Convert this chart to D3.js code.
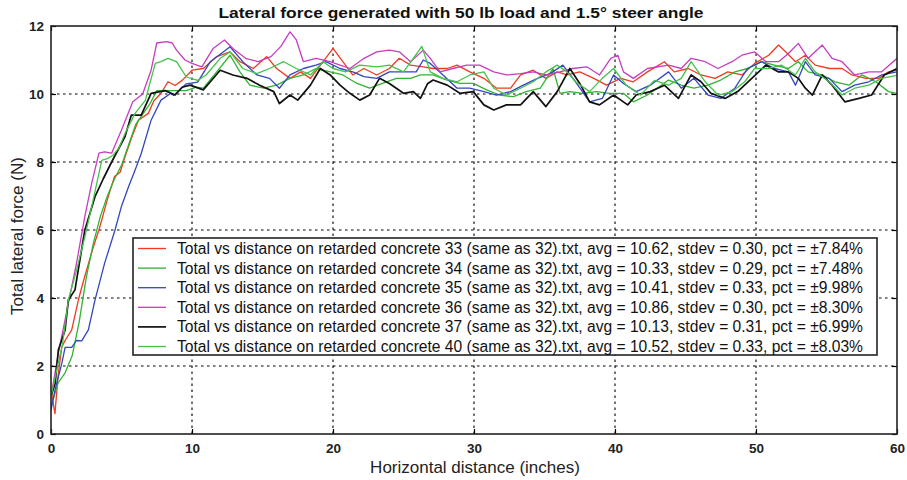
<!DOCTYPE html>
<html>
<head>
<meta charset="utf-8">
<script src="https://cdn.jsdelivr.net/npm/d3@7"></script>
<style>
  body { margin: 0; background: #fff; }
  svg { display: block; }
  .tick text { font-family: "Liberation Sans", Arial, sans-serif; font-size: 13.5px; font-weight: bold; fill: #222; }
  .grid line { stroke: #000; stroke-width: 1.1; stroke-dasharray: 2.5 3.5; }
</style>
</head>
<body>
<div id="chart"></div>
<script>
// Chart data
const xTicks = [0, 10, 20, 30, 40, 50, 60];
const yTicks = [0, 2, 4, 6, 8, 10, 12];

const runs = ["33", "34", "35", "36", "37", "40"];
const colors = ["#f03a22", "#2fb52f", "#3246c0", "#c83cc0", "#111111", "#45c24a"];
const avgs = ["10.62", "10.33", "10.41", "10.86", "10.13", "10.52"];
const stdevs = ["0.30", "0.29", "0.33", "0.30", "0.31", "0.33"];
const pcts = ["7.84", "7.48", "9.98", "8.30", "6.99", "8.03"];

const run33 = [[0,1.3],[0.28,0.6],[0.5,1.7],[0.76,2.55],[1.0,2.75],[1.47,3.06],[1.94,3.94],[2.3,4.5],[2.65,5.0],[3.0,5.5],[3.4,6.0],[4.0,6.9],[4.5,7.57],[4.9,7.7],[5.25,8.15],[5.7,8.7],[6.2,9.23],[6.9,9.43],[7.3,9.8],[7.8,10.02],[8.3,10.36],[8.8,10.25],[9.3,10.4],[10.0,10.7],[10.8,10.75],[11.75,11.1],[12.7,11.24],[13.4,10.95],[14.35,10.75],[15.3,11.1],[16.0,10.75],[16.95,10.46],[17.7,10.65],[18.4,10.46],[19.3,10.95],[20.0,11.34],[20.7,10.95],[21.4,10.56],[22.2,10.75],[23.1,10.56],[24.0,10.75],[24.7,11.05],[25.5,10.85],[26.4,10.8],[27.1,10.75],[28.1,10.75],[28.8,10.85],[29.7,10.65],[30.7,10.46],[31.6,10.17],[32.6,10.17],[33.3,10.56],[34.2,10.7],[35.1,10.46],[35.9,10.65],[36.6,10.56],[37.5,10.65],[38.5,10.46],[39.4,10.26],[40.4,10.46],[41.3,10.36],[42.3,10.65],[43.5,10.95],[44.2,10.65],[45.2,10.75],[46.1,10.56],[47.1,10.46],[48.0,10.65],[49.0,10.56],[49.9,10.9],[50.9,11.14],[51.6,11.44],[52.1,11.24],[52.8,10.95],[53.5,11.14],[54.2,10.85],[55.2,10.75],[56.1,10.75],[56.8,10.56],[57.8,10.46],[58.7,10.46],[59.4,10.65],[60,10.7]];

const run34 = [[0,0.8],[0.5,1.5],[1.0,1.8],[1.5,2.3],[2.0,3.3],[2.5,4.6],[3.0,5.6],[3.5,6.4],[4.0,7.0],[4.5,7.5],[5.0,7.9],[5.5,8.5],[6.0,9.1],[6.5,9.4],[7.0,9.7],[7.5,10.1],[8.4,10.1],[9.6,10.1],[10.3,10.2],[10.8,10.17],[11.75,10.65],[12.7,11.14],[13.4,10.65],[14.1,10.26],[15.1,10.17],[16.0,10.26],[16.95,10.46],[17.9,10.56],[18.8,10.75],[19.8,10.65],[20.7,10.56],[21.7,10.31],[22.6,10.17],[23.5,10.31],[24.5,10.46],[25.5,10.46],[26.2,10.56],[27.1,10.56],[28.1,10.41],[29.0,10.31],[29.95,10.31],[30.9,10.12],[31.8,9.97],[32.8,9.92],[33.7,10.07],[34.7,10.17],[35.6,10.75],[36.1,10.02],[36.8,10.07],[37.7,10.02],[38.7,10.07],[39.6,10.02],[40.6,10.02],[41.3,9.77],[42.3,9.97],[43.8,10.41],[44.7,10.26],[45.6,10.17],[46.6,10.26],[47.5,10.41],[48.5,10.65],[49.4,10.75],[50.4,10.95],[51.3,10.85],[52.3,10.75],[53.0,10.95],[53.7,10.65],[54.7,10.56],[55.6,10.36],[56.6,10.26],[57.5,10.56],[58.5,10.36],[59.4,10.07],[60,10.02]];

const run35 = [[0,0.7],[0.28,1.29],[0.76,2.06],[1.0,2.55],[1.47,2.55],[1.8,2.75],[2.18,2.74],[2.65,3.06],[3.12,3.94],[3.8,5.02],[4.54,6.0],[5.0,6.7],[5.5,7.27],[6.0,7.8],[6.4,8.25],[7.1,9.23],[7.8,9.82],[8.5,10.02],[8.7,9.96],[9.6,10.3],[10.4,10.35],[11.3,10.95],[12.7,11.39],[13.6,10.95],[14.6,10.56],[15.5,10.46],[16.2,10.17],[16.95,10.56],[17.9,10.75],[18.8,10.85],[19.5,10.95],[20.5,10.75],[21.4,10.65],[22.2,10.51],[23.1,10.46],[24.0,10.65],[25.0,10.65],[25.9,10.65],[26.4,11.0],[26.9,10.9],[27.8,10.56],[28.8,10.17],[29.7,10.17],[30.7,10.07],[31.6,9.97],[32.6,10.07],[33.5,10.26],[34.5,10.46],[35.4,10.6],[36.3,10.85],[37.2,10.36],[38.2,9.77],[39.1,9.87],[39.9,10.56],[40.6,10.31],[41.5,10.07],[42.5,10.26],[43.8,10.65],[44.7,10.17],[45.6,10.46],[46.6,9.97],[47.5,9.87],[48.5,10.17],[49.4,10.75],[50.4,10.95],[51.3,10.75],[52.3,10.65],[52.8,10.26],[53.5,10.95],[54.2,10.56],[55.2,10.46],[56.1,10.07],[57.0,10.26],[58.0,10.36],[58.9,10.56],[60,10.65]];

const run36 = [[0,1.1],[0.52,2.37],[1.23,3.84],[1.8,5.0],[2.4,6.4],[2.9,7.4],[3.4,8.26],[3.8,8.3],[4.3,8.26],[5.0,8.94],[5.8,9.77],[6.5,10.0],[7.1,10.7],[7.5,11.5],[8.2,11.54],[8.6,11.5],[8.9,11.29],[9.5,11.0],[10.0,10.9],[10.7,10.8],[11.5,11.34],[12.3,11.59],[12.9,11.34],[13.8,11.05],[14.7,10.95],[15.6,11.1],[16.3,11.4],[16.95,11.83],[17.4,11.59],[17.9,10.95],[18.8,11.05],[19.8,10.95],[20.5,10.85],[21.2,10.75],[22.2,11.05],[23.1,11.24],[24.0,11.29],[24.7,11.24],[25.5,10.95],[26.4,11.29],[26.9,11.05],[27.6,10.65],[28.5,10.75],[29.5,10.85],[30.4,10.85],[31.4,10.65],[32.3,10.56],[33.3,10.6],[34.2,10.65],[35.1,10.56],[36.1,10.65],[37.0,10.75],[38.0,10.8],[38.9,10.56],[39.7,11.05],[40.2,11.14],[40.6,10.65],[41.3,10.46],[42.3,10.75],[43.8,10.85],[44.7,10.75],[45.4,11.05],[46.4,10.95],[47.3,10.75],[48.3,10.95],[49.0,11.14],[49.9,11.24],[50.7,10.95],[51.6,10.95],[52.3,11.19],[53.0,11.49],[53.7,11.05],[54.7,11.44],[55.4,11.05],[56.1,10.95],[57.0,10.56],[58.0,10.65],[58.9,10.65],[60,11.05]];

const run37 = [[0,1.1],[0.3,1.5],[0.52,2.47],[1.0,3.06],[1.23,3.94],[1.7,4.24],[2.4,6.0],[3.12,6.98],[3.7,7.5],[4.3,8.0],[5.25,8.75],[5.7,9.38],[6.4,9.38],[7.1,10.02],[8.1,10.1],[8.8,9.97],[9.3,10.2],[9.86,10.26],[10.8,10.12],[11.3,10.36],[12.0,10.7],[12.9,10.56],[13.9,10.46],[14.8,10.26],[15.8,10.07],[16.2,9.72],[16.95,9.97],[17.5,9.82],[18.4,10.26],[19.1,10.75],[19.8,10.56],[20.5,10.26],[21.2,10.02],[21.9,9.82],[22.6,9.97],[23.3,10.46],[24.0,10.31],[25.0,10.02],[25.7,10.07],[26.2,9.87],[26.7,10.3],[27.1,10.41],[28.1,10.26],[29.0,10.02],[29.95,10.07],[30.7,9.68],[31.4,9.53],[32.3,9.68],[33.3,9.68],[34.2,10.07],[35.1,9.63],[35.9,10.07],[36.8,10.75],[37.5,10.31],[38.2,9.77],[38.9,9.68],[39.9,9.97],[40.9,9.68],[41.5,9.97],[42.5,10.07],[43.5,10.26],[44.5,9.87],[45.4,10.56],[46.1,10.36],[46.8,10.02],[47.8,9.87],[48.7,10.07],[49.7,10.46],[50.7,10.85],[51.6,10.65],[52.3,10.65],[53.0,10.46],[53.5,10.17],[54.0,9.97],[54.7,10.56],[55.4,10.26],[56.3,9.77],[57.3,9.87],[58.2,9.97],[59.1,10.56],[60,10.75]];

const run40 = [[0,1.1],[0.5,2.07],[0.8,2.6],[1.23,3.94],[1.8,4.8],[2.4,5.8],[3.0,6.9],[3.6,8.05],[4.0,8.1],[4.4,8.2],[4.8,8.4],[5.25,8.84],[5.96,9.43],[6.7,9.82],[7.0,10.3],[7.4,10.9],[7.8,10.95],[8.3,11.05],[8.9,10.95],[9.6,10.5],[10.4,10.4],[11.0,10.56],[12.0,11.05],[12.7,11.24],[13.6,10.75],[14.6,10.6],[15.5,10.75],[16.5,10.95],[17.4,10.75],[18.4,10.56],[19.3,10.95],[20.0,10.75],[20.9,10.65],[21.9,10.85],[23.1,10.8],[24.0,10.85],[25.0,10.65],[25.7,11.05],[26.3,11.4],[26.9,10.65],[27.8,10.46],[28.8,10.36],[29.7,10.56],[30.7,10.65],[31.4,10.17],[32.3,9.97],[33.3,10.17],[34.2,10.36],[35.1,10.65],[35.9,10.85],[36.6,10.65],[37.2,10.36],[38.2,10.07],[39.1,10.46],[39.9,10.75],[40.8,10.26],[41.8,9.97],[42.8,10.4],[43.8,10.26],[44.7,10.46],[45.4,10.95],[46.4,10.36],[47.3,9.97],[48.3,10.07],[49.2,10.36],[49.9,10.75],[50.9,10.75],[51.8,10.85],[52.8,10.56],[53.5,11.05],[54.2,10.65],[55.2,10.36],[56.1,9.97],[57.0,10.17],[58.0,10.26],[58.9,10.46],[60,10.55]];

const series = [run33, run34, run35, run36, run37, run40];

const width = 907, height = 480;
const margin = { top: 26, right: 10, bottom: 46, left: 51 };

const svg = d3.select("#chart")
    .append("svg")
    .attr("width", width)
    .attr("height", height);

const x = d3.scaleLinear().domain([0, 60]).range([margin.left, width - margin.right]);
const y = d3.scaleLinear().domain([0, 12]).range([height - margin.bottom, margin.top]);

// dotted grid
svg.append("g").attr("class", "grid")
    .selectAll("line.gx")
    .data(xTicks.slice(1, -1))
    .join("line")
    .attr("x1", d => x(d)).attr("x2", d => x(d))
    .attr("y1", y(0)).attr("y2", y(12));

svg.append("g").attr("class", "grid")
    .selectAll("line.gy")
    .data(yTicks.slice(1, -1))
    .join("line")
    .attr("x1", x(0)).attr("x2", x(60))
    .attr("y1", d => y(d)).attr("y2", d => y(d));

svg.append("clipPath").attr("id", "plot-clip")
    .append("rect")
    .attr("x", x(0)).attr("y", y(12))
    .attr("width", x(60) - x(0)).attr("height", y(0) - y(12));

const line = d3.line()
    .x(d => x(d[0]))
    .y(d => y(d[1]));

svg.append("g")
    .attr("clip-path", "url(#plot-clip)")
    .selectAll("path")
    .data(series)
    .join("path")
    .attr("fill", "none")
    .attr("stroke", (d, i) => colors[i])
    .attr("stroke-width", (d, i) => runs[i] === "37" ? 1.7 : 1.3)
    .attr("stroke-linejoin", "round")
    .attr("d", line);

// axes, ticks point inward
svg.append("g")
    .attr("transform", `translate(0,${y(0)})`)
    .call(d3.axisBottom(x).tickValues(xTicks).tickSize(-5).tickPadding(9))
    .call(g => g.select(".domain").remove());

svg.append("g")
    .attr("transform", `translate(0,${y(12)})`)
    .call(d3.axisTop(x).tickValues(xTicks).tickSize(-5).tickFormat(""))
    .call(g => g.select(".domain").remove());

svg.append("g")
    .attr("transform", `translate(${x(0)},0)`)
    .call(d3.axisLeft(y).tickValues(yTicks).tickSize(-5).tickPadding(7))
    .call(g => g.select(".domain").remove());

svg.append("g")
    .attr("transform", `translate(${x(60)},0)`)
    .call(d3.axisRight(y).tickValues(yTicks).tickSize(-5).tickFormat(""))
    .call(g => g.select(".domain").remove());

svg.selectAll(".tick line").attr("stroke", "#000").attr("stroke-width", 1.2);

svg.append("rect")
    .attr("x", x(0)).attr("y", y(12))
    .attr("width", x(60) - x(0)).attr("height", y(0) - y(12))
    .attr("fill", "none")
    .attr("stroke", "#222")
    .attr("stroke-width", 1.6);

// legend
const legend = svg.append("g").attr("transform", "translate(133,238)");
legend.append("rect")
    .attr("width", 744).attr("height", 117)
    .attr("fill", "#fff")
    .attr("stroke", "#222")
    .attr("stroke-width", 1.6);

const rows = legend.selectAll("g.row")
    .data(runs)
    .join("g")
    .attr("class", "row")
    .attr("transform", (d, i) => `translate(0,${10.5 + i * 19.6})`);

rows.append("line")
    .attr("x1", 5).attr("x2", 33)
    .attr("stroke", (d, i) => colors[i])
    .attr("stroke-width", (d, i) => runs[i] === "37" ? 1.7 : 1.3);

rows.append("text")
    .attr("x", 44)
    .attr("y", 5.5)
    .style("font-family", '"Liberation Sans", Arial, sans-serif')
    .style("font-size", "15.6px")
    .style("fill", "#111")
    .text((d, i) => `Total vs distance on retarded concrete ${d} (same as 32).txt, avg = ${avgs[i]}, stdev = ${stdevs[i]}, pct = \u00b1${pcts[i]}%`);

// titles
svg.append("text")
    .attr("x", 461).attr("y", 18)
    .attr("text-anchor", "middle")
    .attr("textLength", 485)
    .attr("lengthAdjust", "spacingAndGlyphs")
    .style("font-family", '"Liberation Sans", Arial, sans-serif')
    .style("font-size", "15px")
    .style("font-weight", "bold")
    .style("fill", "#111")
    .text("Lateral force generated with 50 lb load and 1.5\u00b0 steer angle");

svg.append("text")
    .attr("x", 475).attr("y", 473)
    .attr("text-anchor", "middle")
    .style("font-family", '"Liberation Sans", Arial, sans-serif')
    .style("font-size", "17px")
    .style("fill", "#222")
    .text("Horizontal distance (inches)");

svg.append("text")
    .attr("transform", "translate(23,236) rotate(-90)")
    .attr("text-anchor", "middle")
    .style("font-family", '"Liberation Sans", Arial, sans-serif')
    .style("font-size", "17px")
    .style("fill", "#222")
    .text("Total lateral force (N)");
</script>
</body>
</html>
